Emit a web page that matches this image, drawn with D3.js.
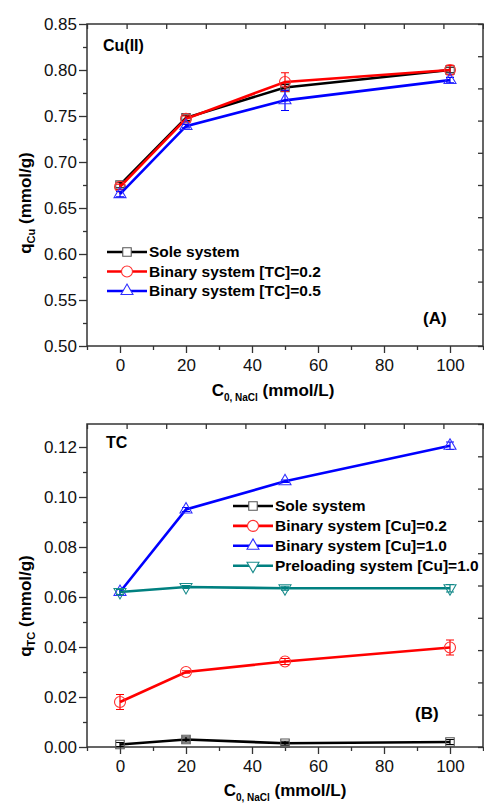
<!DOCTYPE html>
<html>
<head>
<meta charset="utf-8">
<script src="https://cdn.jsdelivr.net/npm/d3@7"></script>
<style>
  body { margin: 0; background: #fff; }
  svg { display: block; font-family: 'Liberation Sans', Arial, sans-serif; }
</style>
</head>
<body>
<div id="chart"></div>
<script>
// NaCl concentrations (mmol/L)
var nacl = [0, 20, 50, 100];

// panel A: Cu(II) uptake
var cuSole = [0.675, 0.748, 0.781, 0.800];
var cuSoleErr = [0.003, 0.003, 0.003, 0.003];
var cuTc02 = [0.673, 0.747, 0.787, 0.800];
var cuTc02Err = [0.003, 0.003, 0.010, 0.005];
var cuTc05 = [0.665, 0.739, 0.767, 0.789];
var cuTc05Err = [0.003, 0.002, 0.011, 0.003];

// panel B: TC uptake
var tcSole = [0.001, 0.003, 0.0015, 0.002];
var tcSoleErr = [0.0008, 0.001, 0.0008, 0.001];
var tcCu02 = [0.018, 0.030, 0.0342, 0.0398];
var tcCu02Err = [0.003, 0.0005, 0.0012, 0.003];
var tcCu10 = [0.062, 0.095, 0.1063, 0.1205];
var tcCu10Err = [0.001, 0.0008, 0.0005, 0.0015];
var tcPre = [0.062, 0.064, 0.0635, 0.0635];
var tcPreErr = [0.001, 0.0006, 0.0008, 0.0015];

var xTicks = [0, 20, 40, 60, 80, 100];
var cuTicks = [0.50, 0.55, 0.60, 0.65, 0.70, 0.75, 0.80, 0.85];
var tcTicks = [0.00, 0.02, 0.04, 0.06, 0.08, 0.10, 0.12];

var width = 484;
var height = 803;

var svg = d3.select('#chart')
  .append('svg')
  .attr('width', width)
  .attr('height', height);

var triUp = d3.symbol().type(d3.symbolTriangle).size(62)();
var markers = {
  square: d3.symbol().type(d3.symbolSquare).size(72)(),
  circle: d3.symbol().type(d3.symbolCircle).size(95)(),
  up: triUp,
  down: triUp
};

function drawPanel(cfg) {
  var left = 87, right = 483;
  var x = d3.scaleLinear().domain([-10, 110]).range([left, right]);
  var y = d3.scaleLinear().domain(cfg.yDomain).range([cfg.bottom, cfg.top]);
  var g = svg.append('g');

  // minor ticks
  var xMinor = d3.range(-10, 111, 10).filter(d => xTicks.indexOf(d) < 0);
  var step = cfg.yTicks[1] - cfg.yTicks[0];
  var yMinor = cfg.yTicks.map(d => d + step / 2).filter(d => d < cfg.yDomain[1]);

  g.append('g')
    .attr('transform', 'translate(0,' + cfg.bottom + ')')
    .call(d3.axisBottom(x).tickValues(xMinor).tickSize(4).tickFormat(''));
  g.append('g')
    .attr('class', 'x-axis')
    .attr('transform', 'translate(0,' + cfg.bottom + ')')
    .call(d3.axisBottom(x).tickValues(xTicks).tickSize(7).tickPadding(6));
  g.append('g')
    .attr('transform', 'translate(' + left + ',0)')
    .call(d3.axisLeft(y).tickValues(yMinor).tickSize(4).tickFormat(''));
  g.append('g')
    .attr('class', 'y-axis')
    .attr('transform', 'translate(' + left + ',0)')
    .call(d3.axisLeft(y).tickValues(cfg.yTicks).tickSize(8).tickPadding(2).tickFormat(d3.format('.2f')));

  // opposite axes, evenly divided, ticks inward
  var top = d3.scaleLinear().domain([0, 10]).range([left, right]);
  var rightScale = d3.scaleLinear().domain([0, 10]).range([cfg.bottom, cfg.top]);
  g.append('g')
    .attr('transform', 'translate(0,' + cfg.top + ')')
    .call(d3.axisTop(top).ticks(10).tickSize(-5).tickFormat(''));
  g.append('g')
    .attr('transform', 'translate(' + right + ',0)')
    .call(d3.axisRight(rightScale).ticks(10).tickSize(-5).tickFormat(''));

  g.selectAll('.domain').remove();
  g.selectAll('.tick line').attr('stroke', '#333').attr('stroke-width', 1.3);
  g.selectAll('.tick text').attr('font-size', 17).attr('fill', '#111')
    .attr('font-family', "'Liberation Sans', Arial, sans-serif");

  g.append('rect')
    .attr('x', left).attr('y', cfg.top)
    .attr('width', right - left).attr('height', cfg.bottom - cfg.top)
    .attr('fill', 'none').attr('stroke', '#333').attr('stroke-width', 1.5);

  // series
  var line = d3.line().x(d => x(d.x)).y(d => y(d.y));
  cfg.series.forEach(s => {
    var pts = nacl.map((v, i) => ({ x: v, y: s.values[i], e: s.errors[i] }));
    var sg = g.append('g');
    sg.append('path')
      .datum(pts)
      .attr('d', line)
      .attr('fill', 'none')
      .attr('stroke', s.color)
      .attr('stroke-width', 2.6);

    sg.selectAll('.err')
      .data(pts)
      .enter()
      .append('path')
      .attr('d', d => {
        var cx = x(d.x), y1 = y(d.y + d.e), y2 = y(d.y - d.e);
        return 'M' + (cx - 4) + ',' + y1 + 'H' + (cx + 4) +
          'M' + cx + ',' + y1 + 'V' + y2 +
          'M' + (cx - 4) + ',' + y2 + 'H' + (cx + 4);
      })
      .attr('stroke', s.color)
      .attr('stroke-width', 1.2)
      .attr('fill', 'none');

    sg.selectAll('.mk')
      .data(pts)
      .enter()
      .append('path')
      .attr('d', markers[s.marker])
      .attr('transform', d => 'translate(' + x(d.x) + ',' + y(d.y) + ')' +
        (s.marker === 'down' ? ' rotate(180)' : ''))
      .attr('fill', 'none')
      .attr('stroke', s.markerColor)
      .attr('stroke-width', 1.1);
  });

  // legend
  var lg = g.append('g');
  cfg.series.forEach((s, i) => {
    var ly = cfg.legendY + i * cfg.legendGap;
    lg.append('line')
      .attr('x1', cfg.legendX).attr('x2', cfg.legendX + 40)
      .attr('y1', ly).attr('y2', ly)
      .attr('stroke', s.color).attr('stroke-width', 2.6);
    lg.append('path')
      .attr('d', markers[s.marker])
      .attr('transform', 'translate(' + (cfg.legendX + 20) + ',' + ly + ')' +
        (s.marker === 'down' ? ' rotate(180)' : ''))
      .attr('fill', '#fff')
      .attr('stroke', s.markerColor)
      .attr('stroke-width', 1.1);
    lg.append('text')
      .attr('x', cfg.legendX + 42)
      .attr('y', ly)
      .attr('dy', '0.35em')
      .attr('font-size', 15.5)
      .attr('font-weight', 'bold')
      .text(s.name);
  });

  // corner labels
  g.append('text')
    .attr('x', cfg.nameX).attr('y', cfg.nameY)
    .attr('dy', '0.35em')
    .attr('font-size', 16).attr('font-weight', 'bold')
    .text(cfg.name);
  g.append('text')
    .attr('x', cfg.tagX).attr('y', cfg.tagY)
    .attr('dy', '0.35em')
    .attr('font-size', 17).attr('font-weight', 'bold')
    .text(cfg.tag);

  // axis titles
  var yt = g.append('text')
    .attr('transform', 'translate(31,' + cfg.yTitleY + ') rotate(-90)')
    .attr('text-anchor', 'middle')
    .attr('font-size', 17).attr('font-weight', 'bold');
  yt.append('tspan').text('q');
  yt.append('tspan').attr('font-size', 11).attr('dy', 4).text(cfg.sub);
  yt.append('tspan').attr('dy', -4).text(' (mmol/g)');

  var xt = g.append('text')
    .attr('x', cfg.xTitleX).attr('y', cfg.xTitleY)
    .attr('text-anchor', 'middle')
    .attr('font-size', 17).attr('font-weight', 'bold');
  xt.append('tspan').text('C');
  xt.append('tspan').attr('font-size', 10).attr('dy', 5).text('0, NaCl');
  xt.append('tspan').attr('dy', -5).text(' (mmol/L)');
}

drawPanel({
  top: 24, bottom: 346,
  yDomain: [0.50, 0.85],
  yTicks: cuTicks,
  name: 'Cu(II)', nameX: 103, nameY: 45,
  tag: '(A)', tagX: 423, tagY: 318,
  sub: 'Cu', yTitleY: 203,
  xTitleX: 273, xTitleY: 396,
  legendX: 107, legendY: 252, legendGap: 19.5,
  series: [
    { name: 'Sole system', values: cuSole, errors: cuSoleErr, color: '#000', markerColor: '#555', marker: 'square' },
    { name: 'Binary system [TC]=0.2', values: cuTc02, errors: cuTc02Err, color: '#ff0000', markerColor: '#ff3030', marker: 'circle' },
    { name: 'Binary system [TC]=0.5', values: cuTc05, errors: cuTc05Err, color: '#0000ff', markerColor: '#3030ff', marker: 'up' }
  ]
});

drawPanel({
  top: 424, bottom: 747,
  yDomain: [0, 0.1292],
  yTicks: tcTicks,
  name: 'TC', nameX: 106, nameY: 442,
  tag: '(B)', tagX: 415, tagY: 713,
  sub: 'TC', yTitleY: 606,
  xTitleX: 285, xTitleY: 796,
  legendX: 233, legendY: 506, legendGap: 19.9,
  series: [
    { name: 'Sole system', values: tcSole, errors: tcSoleErr, color: '#000', markerColor: '#555', marker: 'square' },
    { name: 'Binary system [Cu]=0.2', values: tcCu02, errors: tcCu02Err, color: '#ff0000', markerColor: '#ff3030', marker: 'circle' },
    { name: 'Binary system [Cu]=1.0', values: tcCu10, errors: tcCu10Err, color: '#0000ff', markerColor: '#3030ff', marker: 'up' },
    { name: 'Preloading system [Cu]=1.0', values: tcPre, errors: tcPreErr, color: '#008080', markerColor: '#1a8c8c', marker: 'down' }
  ]
});
</script>
</body>
</html>
